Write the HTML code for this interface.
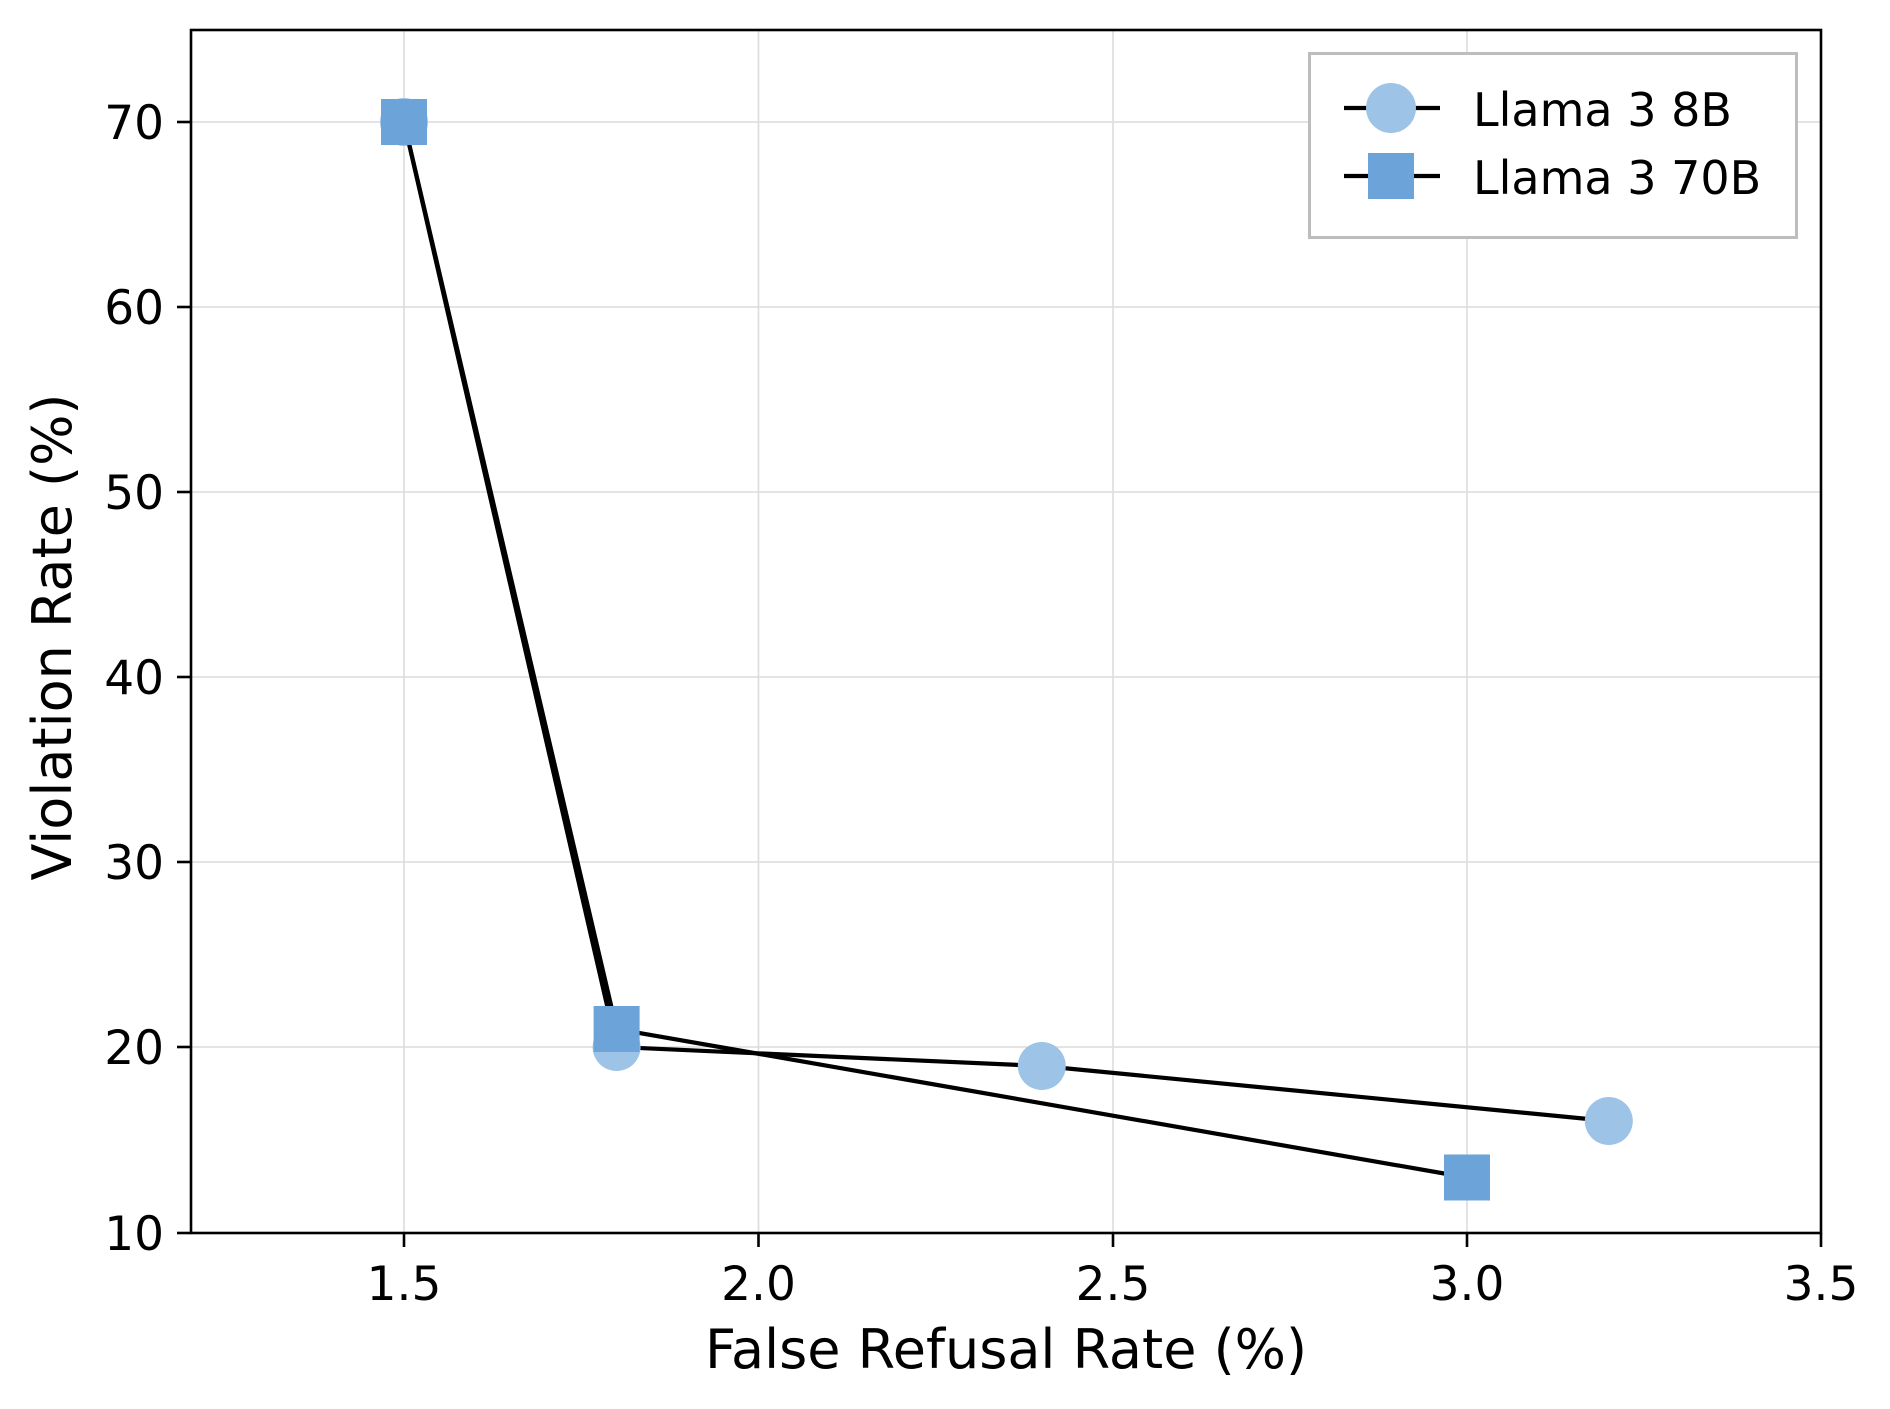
<!DOCTYPE html>
<html><head><meta charset="utf-8"><style>html,body{margin:0;padding:0;background:#fff}svg{display:block}text{font-family:"DejaVu Sans","Liberation Sans",sans-serif;fill:#000}</style></head>
<body>
<svg width="1890" height="1409" viewBox="0 0 1890 1409" xmlns="http://www.w3.org/2000/svg">
<rect width="1890" height="1409" fill="#fff"/>
<g stroke="#dcdcdc" stroke-width="1.6">
<line x1="404" y1="30" x2="404" y2="1233"/><line x1="758.5" y1="30" x2="758.5" y2="1233"/><line x1="1113" y1="30" x2="1113" y2="1233"/><line x1="1467" y1="30" x2="1467" y2="1233"/>
<line x1="191" y1="1047" x2="1821" y2="1047"/><line x1="191" y1="862" x2="1821" y2="862"/><line x1="191" y1="677" x2="1821" y2="677"/><line x1="191" y1="492" x2="1821" y2="492"/><line x1="191" y1="307" x2="1821" y2="307"/><line x1="191" y1="122" x2="1821" y2="122"/>
</g>
<polyline points="404,122 616.6,1047 1041.8,1066 1608.8,1121" fill="none" stroke="#000" stroke-width="4.2" stroke-linejoin="round"/>
<g fill="#9dc3e6"><circle cx="404" cy="122" r="24"/><circle cx="616.6" cy="1047" r="24"/><circle cx="1041.8" cy="1066" r="24"/><circle cx="1608.8" cy="1121" r="24"/></g>
<polyline points="404,122 616.6,1029 1467,1177.5" fill="none" stroke="#000" stroke-width="4.2" stroke-linejoin="round"/>
<g fill="#6ca3d8"><rect x="381" y="99" width="46" height="46"/><rect x="593.6" y="1006" width="46" height="46"/><rect x="1444" y="1154.5" width="46" height="46"/></g>
<rect x="191" y="30" width="1630" height="1203" fill="none" stroke="#000" stroke-width="2.6"/>
<g stroke="#000" stroke-width="2.6">
<line x1="404" y1="1233" x2="404" y2="1247"/><line x1="758.5" y1="1233" x2="758.5" y2="1247"/><line x1="1113" y1="1233" x2="1113" y2="1247"/><line x1="1467" y1="1233" x2="1467" y2="1247"/><line x1="1821" y1="1233" x2="1821" y2="1247"/>
<line x1="177" y1="1233" x2="191" y2="1233"/><line x1="177" y1="1047" x2="191" y2="1047"/><line x1="177" y1="862" x2="191" y2="862"/><line x1="177" y1="677" x2="191" y2="677"/><line x1="177" y1="492" x2="191" y2="492"/><line x1="177" y1="307" x2="191" y2="307"/><line x1="177" y1="122" x2="191" y2="122"/>
</g>
<g font-size="47" text-anchor="middle">
<text x="404" y="1300">1.5</text><text x="758.5" y="1300">2.0</text><text x="1113" y="1300">2.5</text><text x="1467" y="1300">3.0</text><text x="1821" y="1300">3.5</text>
</g>
<g font-size="47" text-anchor="end">
<text x="164" y="1250">10</text><text x="164" y="1064">20</text><text x="164" y="879">30</text><text x="164" y="694">40</text><text x="164" y="509">50</text><text x="164" y="324">60</text><text x="164" y="139">70</text>
</g>
<text x="1006" y="1368" font-size="54" text-anchor="middle">False Refusal Rate (%)</text>
<text transform="translate(71,637) rotate(-90)" font-size="54" text-anchor="middle">Violation Rate (%)</text>
<rect x="1309.5" y="53.5" width="487" height="184" fill="#fff" stroke="#bdbdbd" stroke-width="3"/>
<line x1="1344" y1="108" x2="1440" y2="108" stroke="#000" stroke-width="4.2"/>
<circle cx="1391" cy="108" r="25" fill="#9dc3e6"/>
<line x1="1344" y1="176" x2="1440" y2="176" stroke="#000" stroke-width="4.2"/>
<rect x="1368" y="153" width="46" height="46" fill="#6ca3d8"/>
<text x="1473" y="126" font-size="46">Llama 3 8B</text>
<text x="1473" y="194" font-size="46">Llama 3 70B</text>
</svg>
</body></html>
